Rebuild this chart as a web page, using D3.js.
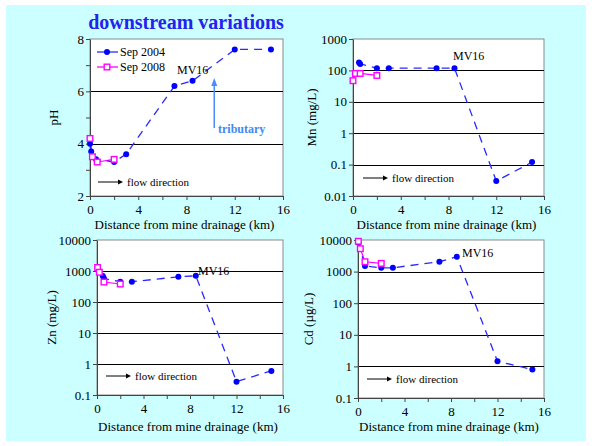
<!DOCTYPE html>
<html>
<head>
<meta charset="utf-8">
<script src="https://cdn.jsdelivr.net/npm/d3@7"></script>
<style>
  body { margin: 0; background: #fff; }
  svg { display: block; font-family: "Liberation Serif", "DejaVu Serif", serif; }
</style>
</head>
<body>
<div id="chart"></div>
<script>
// values
const phDist2004 = [0, 0.1, 0.5, 2, 3, 7, 8.5, 12, 15];
const ph2004 = [4.0, 3.7, 3.4, 3.3, 3.6, 6.2, 6.4, 7.6, 7.6];
const phDist2008 = [0, 0.2, 0.6, 2];
const ph2008 = [4.2, 3.5, 3.3, 3.4];

const mnDist2004 = [0.5, 0.6, 2, 3, 7, 8.5, 12, 15];
const mn2004 = [180, 160, 118, 118, 118, 118, 0.03, 0.12];
const mnDist2008 = [0, 0.2, 0.6, 2];
const mn2008 = [47, 80, 80, 69];

const znDist2004 = [0.5, 0.6, 2, 3, 7, 8.5, 12, 15];
const zn2004 = [690, 570, 450, 450, 650, 700, 0.27, 0.6];
const znDist2008 = [0.05, 0.2, 0.6, 2];
const zn2008 = [1300, 910, 440, 380];

const cdDist2004 = [0.05, 0.6, 2, 3, 7, 8.5, 12, 15];
const cd2004 = [8200, 1500, 1320, 1320, 2050, 2950, 1.45, 0.8];
const cdDist2008 = [0.03, 0.2, 0.6, 2];
const cd2008 = [9100, 5300, 2050, 1820];

const seriesNames = ["Sep 2004", "Sep 2008"];
const xTicks = [0, 2, 4, 6, 8, 10, 12, 14, 16];

const blue = "#0000ff";
const blueLine = "#2a2aff";
const pink = "#ff00ff";

const svg = d3.select("#chart").append("svg")
    .attr("width", 592)
    .attr("height", 446);

// slide background
svg.append("rect").attr("x", 6).attr("y", 5).attr("width", 580).attr("height", 436)
    .attr("fill", "#ccffff");

svg.append("text")
    .attr("x", 186).attr("y", 29)
    .attr("text-anchor", "middle")
    .attr("font-size", "20px").attr("font-weight", "bold")
    .attr("fill", "#2323f0")
    .text("downstream variations");

function drawPanel(cfg) {
    const x = d3.scaleLinear().domain([0, 16]).range([cfg.left, cfg.right]);
    const y = cfg.log
        ? d3.scaleLog().domain(cfg.yDomain).range([cfg.bottom, cfg.top])
        : d3.scaleLinear().domain(cfg.yDomain).range([cfg.bottom, cfg.top]);

    const g = svg.append("g");

    g.append("rect")
        .attr("x", cfg.left).attr("y", cfg.top)
        .attr("width", cfg.right - cfg.left).attr("height", cfg.bottom - cfg.top)
        .attr("fill", "#fff").attr("stroke", "#8a8a8a");

    // grid lines
    g.selectAll(".grid").data(cfg.grid).enter().append("line")
        .attr("x1", cfg.left).attr("x2", cfg.right)
        .attr("y1", d => Math.round(y(d)) + 0.5).attr("y2", d => Math.round(y(d)) + 0.5)
        .attr("stroke", "#000").attr("stroke-width", 1.2);

    // axes
    const yAxis = d3.axisLeft(y).tickValues(cfg.yTicks).tickSize(4).tickSizeOuter(0)
        .tickFormat(cfg.yFormat);
    const xAxis = d3.axisBottom(x).tickValues(xTicks).tickSize(4).tickSizeOuter(0)
        .tickFormat(d => d % 4 === 0 ? d : "");

    const ya = g.append("g").attr("transform", `translate(${cfg.left},0)`).call(yAxis);
    const xa = g.append("g").attr("transform", `translate(0,${cfg.bottom})`).call(xAxis);
    [ya, xa].forEach(a => {
        a.attr("font-family", null);
        a.select(".domain").attr("stroke", "#444");
        a.selectAll(".tick line").attr("stroke", "#444");
        a.selectAll("text").attr("font-size", "13px").attr("fill", "#000");
    });
    ya.selectAll("text").attr("x", -6);
    xa.selectAll("text").attr("y", 9);

    // axis titles
    g.append("text")
        .attr("transform", `translate(${cfg.yLabelX},${(cfg.top + cfg.bottom) / 2}) rotate(-90)`)
        .attr("text-anchor", "middle").attr("font-size", "13px")
        .text(cfg.yLabel);
    g.append("text")
        .attr("x", (cfg.left + cfg.right) / 2 - 2).attr("y", cfg.xLabelY)
        .attr("text-anchor", "middle").attr("font-size", "13px")
        .text("Distance from mine drainage (km)");

    const line = d3.line().x(d => x(d[0])).y(d => y(d[1]));

    // Sep 2008 (magenta, open squares)
    const s08 = cfg.d2008.map((d, i) => [d, cfg.v2008[i]]);
    g.append("path").datum(s08).attr("d", line)
        .attr("fill", "none").attr("stroke", pink).attr("stroke-width", 1.2);

    // Sep 2004 (blue, dashed)
    const s04 = cfg.d2004.map((d, i) => [d, cfg.v2004[i]]);
    g.append("path").datum(s04).attr("d", line)
        .attr("fill", "none").attr("stroke", blueLine).attr("stroke-width", 1.3)
        .attr("stroke-dasharray", "8,6");

    g.selectAll(".dot").data(s04).enter().append("circle")
        .attr("cx", d => x(d[0])).attr("cy", d => y(d[1])).attr("r", 3)
        .attr("fill", blue);

    g.selectAll(".sq").data(s08).enter().append("rect")
        .attr("x", d => x(d[0]) - 2.8).attr("y", d => y(d[1]) - 2.8)
        .attr("width", 5.6).attr("height", 5.6)
        .attr("fill", "#fff").attr("stroke", pink).attr("stroke-width", 1.4);

    // MV16 label
    g.append("text")
        .attr("x", cfg.mv16[0]).attr("y", cfg.mv16[1])
        .attr("font-size", "12px").text("MV16");

    // flow direction
    const fx = cfg.flow[0], fy = cfg.flow[1];
    g.append("line").attr("x1", fx).attr("x2", fx + 22).attr("y1", fy).attr("y2", fy)
        .attr("stroke", "#000").attr("stroke-width", 1);
    g.append("path")
        .attr("d", `M${fx + 25},${fy} L${fx + 20},${fy - 2.5} L${fx + 20},${fy + 2.5} Z`)
        .attr("fill", "#000");
    g.append("text").attr("x", fx + 29).attr("y", fy + 4)
        .attr("font-size", "11px").text("flow direction");

    return { g, x, y };
}

const logFormat = d => d >= 1 ? d3.format("d")(d) : String(d);

const phPanel = drawPanel({
    left: 90, right: 283, top: 39, bottom: 196,
    yDomain: [2, 8], log: false,
    yTicks: [2, 3, 4, 5, 6, 7, 8],
    yFormat: d => d % 2 === 0 ? d : "",
    grid: [4, 6],
    yLabel: "pH", yLabelX: 58, xLabelY: 229,
    d2004: phDist2004, v2004: ph2004, d2008: phDist2008, v2008: ph2008,
    mv16: [177, 74], flow: [98, 182]
});

drawPanel({
    left: 353, right: 544, top: 39, bottom: 196,
    yDomain: [0.01, 1000], log: true,
    yTicks: [0.01, 0.1, 1, 10, 100, 1000],
    yFormat: logFormat,
    grid: [0.1, 1, 10, 100],
    yLabel: "Mn (mg/L)", yLabelX: 316, xLabelY: 229,
    d2004: mnDist2004, v2004: mn2004, d2008: mnDist2008, v2008: mn2008,
    mv16: [453, 60], flow: [363, 178]
});

drawPanel({
    left: 97, right: 283, top: 240, bottom: 395,
    yDomain: [0.1, 10000], log: true,
    yTicks: [0.1, 1, 10, 100, 1000, 10000],
    yFormat: logFormat,
    grid: [1, 10, 100, 1000],
    yLabel: "Zn (mg/L)", yLabelX: 56, xLabelY: 431,
    d2004: znDist2004, v2004: zn2004, d2008: znDist2008, v2008: zn2008,
    mv16: [198, 275], flow: [106, 376]
});

drawPanel({
    left: 358, right: 544, top: 240, bottom: 398,
    yDomain: [0.1, 10000], log: true,
    yTicks: [0.1, 1, 10, 100, 1000, 10000],
    yFormat: logFormat,
    grid: [1, 10, 100, 1000],
    yLabel: "Cd (µg/L)", yLabelX: 313, xLabelY: 431,
    d2004: cdDist2004, v2004: cd2004, d2008: cdDist2008, v2008: cd2008,
    mv16: [462, 257], flow: [367, 379]
});

// legend in the pH panel
const legend = svg.append("g");
[0, 1].forEach(i => {
    const ly = 52 + i * 15;
    legend.append("line").attr("x1", 97).attr("x2", 118).attr("y1", ly).attr("y2", ly)
        .attr("stroke", i === 0 ? blueLine : pink).attr("stroke-width", 1.3);
    if (i === 0) {
        legend.append("circle").attr("cx", 107).attr("cy", ly).attr("r", 3).attr("fill", blue);
    } else {
        legend.append("rect").attr("x", 104.2).attr("y", ly - 2.8).attr("width", 5.6).attr("height", 5.6)
            .attr("fill", "#fff").attr("stroke", pink).attr("stroke-width", 1.4);
    }
    legend.append("text").attr("x", 120).attr("y", ly + 4)
        .attr("font-size", "12px").text(seriesNames[i]);
});

// tributary annotation
const trib = svg.append("g");
const tx = phPanel.x(10.3);
trib.append("line").attr("x1", tx).attr("x2", tx).attr("y1", 128).attr("y2", 84)
    .attr("stroke", "#4a8cff").attr("stroke-width", 1.5);
trib.append("path").attr("d", `M${tx},78 L${tx - 3},86 L${tx + 3},86 Z`).attr("fill", "#4a8cff");
trib.append("text").attr("x", 218).attr("y", 133)
    .attr("font-size", "12px").attr("font-weight", "bold").attr("fill", "#3d8af7")
    .text("tributary");
</script>
</body>
</html>
